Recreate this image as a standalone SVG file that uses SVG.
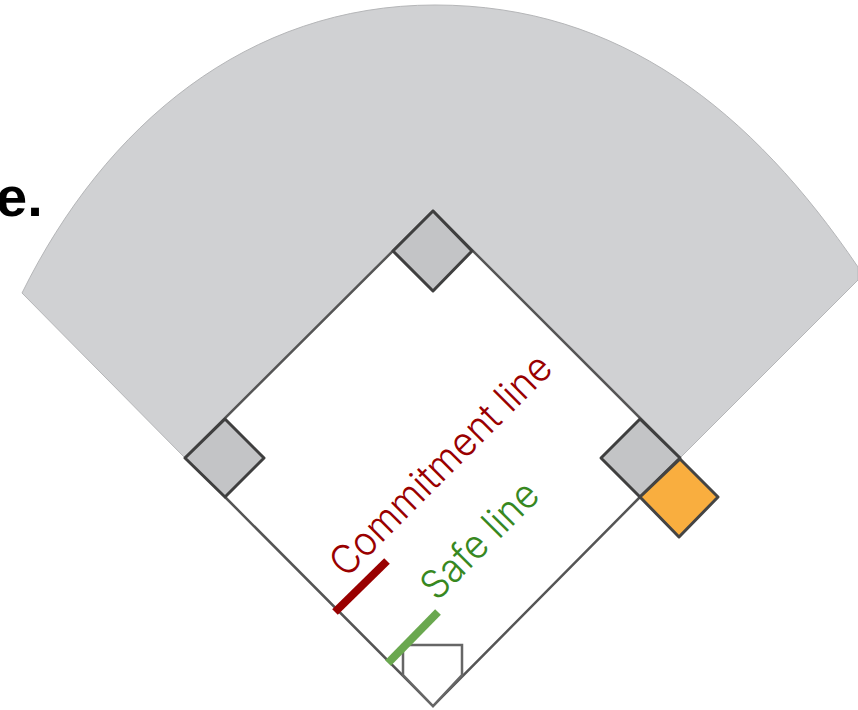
<svg xmlns="http://www.w3.org/2000/svg" width="858" height="710" viewBox="0 0 858 710">
<style>
.base{fill:#c3c4c6;stroke:#3f3f3f;stroke-width:3;stroke-linejoin:round}
.line{fill:none;stroke:#555;stroke-width:2.5}
.lbl{font-family:Inter,"Open Sans",sans-serif;font-size:40px;font-weight:300}
</style>
<rect width="858" height="710" fill="#fff"/>
<g id="outfield"><path d="M22 293C105 125 248 5 435 5C620 5 752 111 858 267V280L680 458L433 211L185 458Z" fill="#d0d1d3" stroke="#b5b6b8" stroke-width="1"/></g>
<g id="connectors">
<path class="line" d="M185 458L433 211L680 458"/>
<path class="line" d="M225 497L433 706L640 497"/>
</g>
<g id="home"><path d="M403 675V645H462V675L433 706Z" fill="#fff" stroke="#666" stroke-width="2.5"/></g>
<g id="second"><path class="base" d="M433 211L472 251L433 291L393 251Z"/></g>
<g id="third"><path class="base" d="M225 419L264 458L225 497L185 458Z"/></g>
<g id="first"><path class="base" d="M640 419L680 458L640 497L601 458Z"/></g>
<g id="pitch"><path d="M680 459L718 497L679 537L640 497Z" fill="#f9ae3f" stroke="#444" stroke-width="3" stroke-linejoin="round"/></g>
<g id="commitment"><path d="M335 612L387 561" stroke="#990000" stroke-width="8" fill="none"/>
<text class="lbl" fill="#990000" transform="translate(346 579) rotate(-45)" textLength="295" lengthAdjust="spacingAndGlyphs">Commitment line</text></g>
<g id="safe"><path d="M388 663L438 612" stroke="#6aa84f" stroke-width="8" fill="none"/>
<text class="lbl" fill="#38881f" transform="translate(437 602) rotate(-45)" textLength="148" lengthAdjust="spacingAndGlyphs">Safe line</text></g>
<text x="-4" y="216" font-family="Liberation Sans,sans-serif" font-size="56" font-weight="700" fill="#000">e.</text>
</svg>
